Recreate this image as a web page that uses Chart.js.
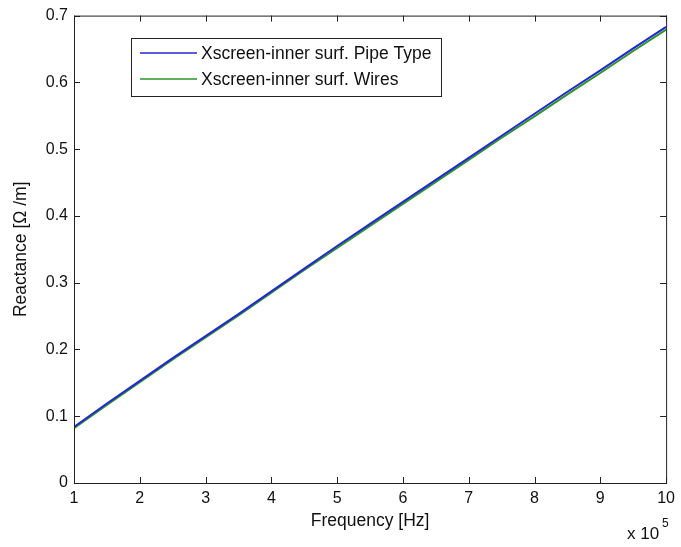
<!DOCTYPE html>
<html>
<head>
  <title>Reactance vs Frequency</title>
  <script src="https://cdn.jsdelivr.net/npm/chart.js"></script>
  <style>
    html, body { margin: 0; padding: 0; background: #fff; }
    #wrap { width: 681px; height: 547px; }
  </style>
</head>
<body>
  <div id="wrap"><canvas id="reactChart" width="681" height="547"></canvas></div>
  <script>
    // frequency in units of 1e5 Hz
    const freq = [1, 1.5, 2, 2.5, 3, 3.5, 4, 4.5, 5, 5.5, 6, 6.5, 7, 7.5, 8, 8.5, 9, 9.5, 10];
    const pipeType = [0.084, 0.119, 0.153, 0.187, 0.220, 0.253, 0.287, 0.321, 0.355, 0.388, 0.421, 0.454, 0.487, 0.520, 0.553, 0.586, 0.618, 0.651, 0.683];
    const wires = [0.082, 0.117, 0.151, 0.185, 0.218, 0.251, 0.285, 0.319, 0.352, 0.385, 0.418, 0.451, 0.484, 0.517, 0.549, 0.582, 0.614, 0.647, 0.679];
    const yTicks = [0, 0.1, 0.2, 0.3, 0.4, 0.5, 0.6, 0.7];
    const xTicks = [1, 2, 3, 4, 5, 6, 7, 8, 9, 10];
    const labels = ['Xscreen-inner surf. Pipe Type', 'Xscreen-inner surf. Wires'];
    const colors = ['rgb(38,38,215)', 'rgb(40,150,40)'];

    const FONT = 'Arial, "Liberation Sans", Helvetica, sans-serif';

    // box around the axes, inward ticks, legend box and exponent label
    const matlabAxes = {
      id: 'matlabAxes',
      afterDraw(chart) {
        const ctx = chart.ctx;
        const a = chart.chartArea;
        const xs = chart.scales.x, ys = chart.scales.y;
        ctx.save();
        ctx.strokeStyle = '#222';
        ctx.lineWidth = 1;
        ctx.strokeRect(a.left + 0.5, a.top + 0.5, a.right - a.left, a.bottom - a.top);
        ctx.beginPath();
        xTicks.forEach(v => {
          const px = Math.round(xs.getPixelForValue(v)) + 0.5;
          ctx.moveTo(px, a.bottom); ctx.lineTo(px, a.bottom - 6);
          ctx.moveTo(px, a.top); ctx.lineTo(px, a.top + 6);
        });
        yTicks.forEach(v => {
          const py = Math.round(ys.getPixelForValue(v)) + 0.5;
          ctx.moveTo(a.left, py); ctx.lineTo(a.left + 6, py);
          ctx.moveTo(a.right, py); ctx.lineTo(a.right - 6, py);
        });
        ctx.stroke();

        // legend
        const lx = 131, ly = 38, lw = 310, lh = 58;
        ctx.fillStyle = '#fff';
        ctx.fillRect(lx, ly, lw, lh);
        ctx.strokeRect(lx + 0.5, ly + 0.5, lw, lh);
        ctx.font = '17.5px ' + FONT;
        ctx.textBaseline = 'middle';
        labels.forEach((t, i) => {
          const y = ly + 15 + i * 26;
          ctx.strokeStyle = colors[i];
          ctx.lineWidth = 1.5;
          ctx.beginPath();
          ctx.moveTo(lx + 9, y); ctx.lineTo(lx + 66, y);
          ctx.stroke();
          ctx.fillStyle = '#111';
          ctx.fillText(t, lx + 70, y + 1);
        });

        // exponent
        ctx.fillStyle = '#111';
        ctx.font = '17px ' + FONT;
        ctx.textBaseline = 'alphabetic';
        ctx.fillText('x 10', 627, 539);
        ctx.font = '12px ' + FONT;
        ctx.fillText('5', 662, 527);
        ctx.restore();
      }
    };

    new Chart(document.getElementById('reactChart'), {
      type: 'line',
      data: {
        datasets: [
          {
            label: labels[0],
            data: freq.map((f, i) => ({ x: f, y: pipeType[i] })),
            borderColor: colors[0],
            borderWidth: 2,
            pointRadius: 0,
            fill: false,
            tension: 0
          },
          {
            label: labels[1],
            data: freq.map((f, i) => ({ x: f, y: wires[i] })),
            borderColor: colors[1],
            borderWidth: 2,
            pointRadius: 0,
            fill: false,
            tension: 0
          }
        ]
      },
      options: {
        responsive: false,
        animation: false,
        layout: { padding: { left: 0, top: 14, right: 12, bottom: 0 } },
        plugins: {
          legend: { display: false },
          tooltip: { enabled: false }
        },
        scales: {
          x: {
            type: 'linear',
            min: 1, max: 10,
            afterFit: s => { s.height = 64; },
            afterBuildTicks: s => { s.ticks = xTicks.map(v => ({ value: v })); },
            grid: { display: false, drawTicks: false },
            border: { display: false },
            ticks: { color: '#111', font: { family: FONT, size: 16 }, padding: 6, maxRotation: 0 },
            title: { display: true, text: 'Frequency [Hz]', color: '#111', font: { family: FONT, size: 17.5 }, padding: { top: 4, bottom: 15 } }
          },
          y: {
            min: 0, max: 0.7,
            afterFit: s => { s.width = 74; },
            afterBuildTicks: s => { s.ticks = yTicks.map(v => ({ value: v })); },
            grid: { display: false, drawTicks: false },
            border: { display: false },
            ticks: { color: '#111', font: { family: FONT, size: 16 }, padding: 6, callback: v => String(v) },
            title: { display: true, text: 'Reactance [Ω /m]', color: '#111', font: { family: FONT, size: 17.5 }, padding: { top: 11, bottom: 0 } }
          }
        }
      },
      plugins: [matlabAxes]
    });
  </script>
</body>
</html>
